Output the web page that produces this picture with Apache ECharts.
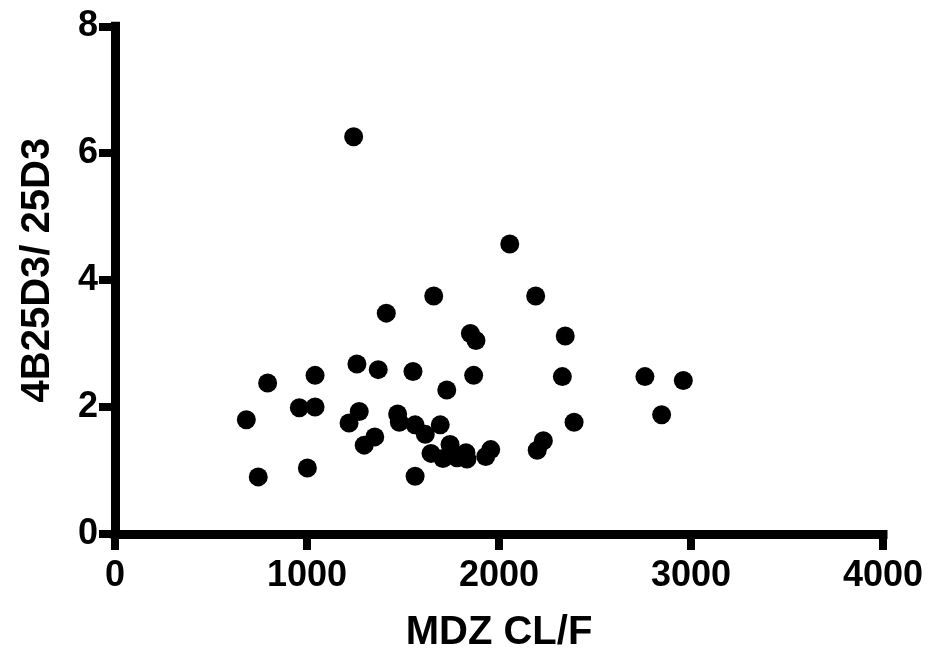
<!DOCTYPE html>
<html>
<head>
<meta charset="utf-8">
<script src="https://cdn.jsdelivr.net/npm/echarts@6/dist/echarts.min.js"></script>
<style>
  html, body { margin: 0; padding: 0; background: #fff; }
  #chart { width: 928px; height: 658px; }
</style>
</head>
<body>
<div id="chart"></div>
<script>
// MDZ clearance (CL/F) per subject
const mdzClearance = [
  1243, 2056, 1660, 2191, 1413, 1851, 1880, 2345,
  795, 1042, 1260, 1371, 1552, 1728, 1868, 2330,
  684, 960, 1042, 1272, 1219, 1353, 1298, 1472,
  1481, 1563, 1616, 1694, 1646, 1708, 1745, 1781,
  1828, 1833, 1957, 1931, 2231, 2199, 746, 1002,
  1563, 2391, 2760, 2960, 2847
];
// 4B25D3 / 25D3 ratio for the same subjects
const ratio4B = [
  6.26, 4.57, 3.75, 3.75, 3.48, 3.16, 3.05, 3.12,
  2.38, 2.50, 2.68, 2.59, 2.56, 2.27, 2.50, 2.48,
  1.80, 1.99, 2.00, 1.93, 1.75, 1.53, 1.40, 1.89,
  1.76, 1.72, 1.57, 1.72, 1.27, 1.19, 1.41, 1.20,
  1.28, 1.18, 1.33, 1.22, 1.47, 1.32, 0.90, 1.04,
  0.91, 1.76, 2.48, 2.42, 1.88
];
const xTicks = [0, 1000, 2000, 3000, 4000];
const yTicks = [0, 2, 4, 6, 8];

const points = mdzClearance.map((x, i) => [x, ratio4B[i]]);

const FONT = "'Liberation Sans', Arial, Helvetica, sans-serif";
const axisLineStyle = { color: '#000', width: 9, cap: 'square' };
const tickStyle = { color: '#000', width: 8 };

const chart = echarts.init(document.getElementById('chart'));
chart.setOption({
  animation: false,
  backgroundColor: '#fff',
  grid: { left: 115, right: 45, top: 26.3, bottom: 120, containLabel: false },
  xAxis: {
    type: 'value',
    min: xTicks[0],
    max: xTicks[xTicks.length - 1],
    interval: 1000,
    name: 'MDZ CL/F',
    nameLocation: 'middle',
    nameGap: 79,
    nameTextStyle: { fontFamily: FONT, fontWeight: 'bold', fontSize: 40, color: '#000' },
    axisLine: { show: true, onZero: false, lineStyle: axisLineStyle },
    axisTick: { show: true, length: 16, lineStyle: tickStyle },
    axisLabel: {
      fontFamily: FONT, fontWeight: 'bold', fontSize: 36, color: '#000', margin: 24,
      formatter: v => String(v)
    },
    splitLine: { show: false }
  },
  yAxis: {
    type: 'value',
    min: yTicks[0],
    max: yTicks[yTicks.length - 1],
    interval: 2,
    name: '4B25D3/ 25D3',
    nameLocation: 'middle',
    nameGap: 57,
    nameRotate: 90,
    nameTextStyle: { fontFamily: FONT, fontWeight: 'bold', fontSize: 40, color: '#000', padding: [0, 0, 0, 20] },
    axisLine: { show: true, onZero: false, lineStyle: axisLineStyle },
    axisTick: { show: true, length: 16, lineStyle: tickStyle },
    axisLabel: {
      fontFamily: FONT, fontWeight: 'bold', fontSize: 36, color: '#000', margin: 17,
      formatter: v => String(v)
    },
    splitLine: { show: false }
  },
  series: [{
    type: 'scatter',
    data: points,
    symbol: 'circle',
    symbolSize: 19,
    itemStyle: { color: '#000', opacity: 1 },
    emphasis: { disabled: true }
  }]
});
</script>
</body>
</html>
